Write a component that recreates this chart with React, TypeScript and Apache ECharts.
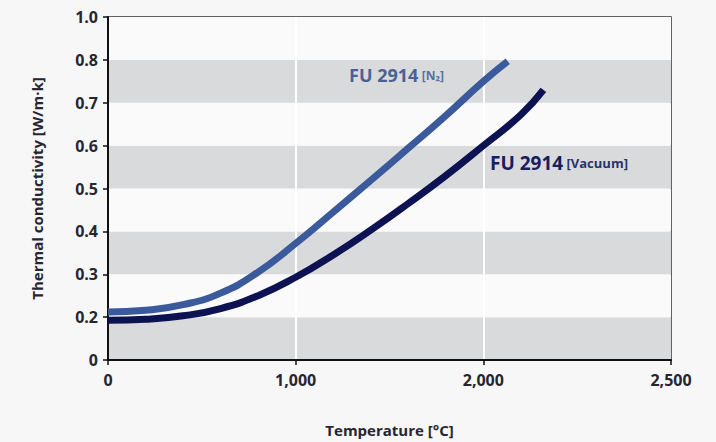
import React, { useEffect, useRef } from "react";
import * as echarts from "echarts";

// Temperature [°C] and thermal conductivity [W/m·k]
const n2Temps = [0, 200, 400, 600, 800, 1000, 1200, 1400, 1600, 1800, 2000, 2130];
const n2Values = [0.212, 0.216, 0.229, 0.256, 0.305, 0.372, 0.445, 0.519, 0.594, 0.67, 0.75, 0.797];
const vacTemps = [0, 200, 400, 600, 800, 1000, 1200, 1400, 1600, 1800, 2000, 2200, 2320];
const vacValues = [0.193, 0.195, 0.203, 0.22, 0.25, 0.293, 0.345, 0.403, 0.465, 0.53, 0.6, 0.672, 0.73];

// tick labels as printed on the (non-uniform) axes
const yTickLabels = ["0", "0.2", "0.3", "0.4", "0.5", "0.6", "0.7", "0.8", "1.0"];
const xTickLabels = ["0", "1,000", "2,000", "2,500"];

const n2Name = "FU 2914";
const n2Gas = "[N₂]";
const vacName = "FU 2914";
const vacGas = "[Vacuum]";

const FONT = "Open Sans";
const LABEL_COLOR = "#262633";

export default function App() {
  const ref = useRef<HTMLDivElement>(null);
  useEffect(() => {
    if (!ref.current) return;
    const chart = echarts.init(ref.current, null, { renderer: "svg" });
    chart.setOption({
      animation: false,
      backgroundColor: "#f7f7f7",
      grid: {
        left: 108,
        right: 45,
        top: 17,
        bottom: 81,
        show: true,
        backgroundColor: "#fafafa",
        borderColor: "#333",
        borderWidth: 1.5,
      },
      xAxis: {
        type: "value",
        min: 0,
        max: 3000,
        interval: 1000,
        name: "Temperature [°C]",
        nameLocation: "middle",
        nameGap: 62,
        nameTextStyle: { fontFamily: FONT, fontWeight: "bold", fontSize: 15, color: LABEL_COLOR },
        axisLine: { show: true, lineStyle: { color: "#111", width: 2 } },
        axisTick: { show: true, length: 5, lineStyle: { color: "#111", width: 1.5 } },
        axisLabel: {
          margin: 12,
          fontFamily: FONT,
          fontWeight: "bold",
          fontSize: 16,
          color: LABEL_COLOR,
          formatter: (v: number) => xTickLabels[Math.round(v / 1000)] ?? "",
        },
        splitLine: {
          show: true,
          showMinLine: false,
          showMaxLine: false,
          lineStyle: { color: "#ffffff", width: 2 },
        },
      },
      yAxis: {
        type: "value",
        min: 0.1,
        max: 0.9,
        interval: 0.1,
        name: "Thermal conductivity [W/m·k]",
        nameLocation: "middle",
        nameGap: 64,
        nameTextStyle: { fontFamily: FONT, fontWeight: "bold", fontSize: 15, color: LABEL_COLOR },
        axisLine: { show: true, lineStyle: { color: "#111", width: 2 } },
        axisTick: { show: true, length: 5, lineStyle: { color: "#111", width: 1.5 } },
        axisLabel: {
          margin: 10,
          fontFamily: FONT,
          fontWeight: "bold",
          fontSize: 16,
          color: LABEL_COLOR,
          formatter: (v: number) => yTickLabels[Math.round((v - 0.1) / 0.1)] ?? "",
        },
        splitLine: { show: false },
        splitArea: { show: true, areaStyle: { color: ["#d9dadc", "#fafafa"] } },
      },
      series: [
        {
          name: "N2",
          type: "line",
          smooth: true,
          symbol: "none",
          data: n2Temps.map((t, i) => [t, n2Values[i]]),
          lineStyle: { color: "#3a5a9b", width: 7, cap: "butt" },
          z: 3,
        },
        {
          name: "Vacuum",
          type: "line",
          smooth: true,
          symbol: "none",
          data: vacTemps.map((t, i) => [t, vacValues[i]]),
          lineStyle: { color: "#0c1252", width: 7, cap: "butt" },
          z: 4,
        },
      ],
      graphic: {
        elements: [
          {
            type: "text",
            x: 349,
            y: 66,
            z: 100,
            style: {
              text: `{a|${n2Name}} {b|${n2Gas}}`,
              rich: {
                a: { fontFamily: FONT, fontWeight: "bold", fontSize: 18, fill: "#4a6194" },
                b: { fontFamily: FONT, fontWeight: "bold", fontSize: 12, fill: "#5a70a0" },
              },
            },
          },
          {
            type: "text",
            x: 490,
            y: 153,
            z: 100,
            style: {
              text: `{a|${vacName}} {b|${vacGas}}`,
              rich: {
                a: { fontFamily: FONT, fontWeight: "bold", fontSize: 19, fill: "#18205a" },
                b: { fontFamily: FONT, fontWeight: "bold", fontSize: 13, fill: "#2a336a" },
              },
            },
          },
        ],
      },
    });
    return () => chart.dispose();
  }, []);
  return (
    <div
      ref={ref}
      style={{ position: "fixed", left: 0, top: 0, width: 716, height: 442 }}
    />
  );
}
